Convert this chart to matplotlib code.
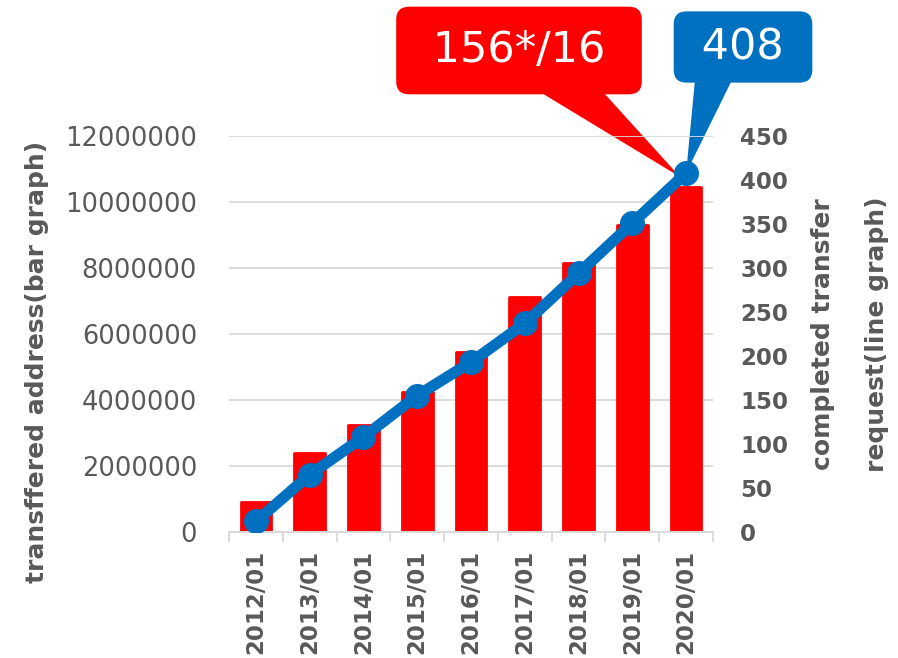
import numpy as np
import matplotlib.pyplot as plt
from matplotlib.patches import Polygon
from matplotlib.transforms import IdentityTransform

# values
months = ['2012/01', '2013/01', '2014/01', '2015/01', '2016/01',
          '2017/01', '2018/01', '2019/01', '2020/01']
addresses = [900000, 2400000, 3230000, 4250000, 5460000,
             7120000, 8140000, 9300000, 10460000]
requests = [12, 65, 108, 155, 193, 237, 294, 351, 408]
left_ticks = [0, 2000000, 4000000, 6000000, 8000000, 10000000, 12000000]
right_ticks = [0, 50, 100, 150, 200, 250, 300, 350, 400, 450]

gray = '#595959'
light = '#D9D9D9'
red = '#FF0000'
blue = '#0070C0'

W, H = 898, 658
fig = plt.figure(figsize=(W / 100, H / 100), dpi=100)
ax = fig.add_axes([229 / W, 1 - 532 / H, (713 - 229) / W, (532 - 136) / H])
ax2 = ax.twinx()

x = np.arange(len(months))

# bars (left axis)
ax.bar(x, addresses, width=0.57, color=red, edgecolor=red, linewidth=2,
       joinstyle='round', zorder=2)
ax.set_xlim(-0.5, len(months) - 0.5)
ax.set_ylim(0, 12000000)
ax.set_yticks(left_ticks, [str(v) for v in left_ticks])
ax.yaxis.grid(True, color=light, linewidth=1.3)
ax.set_axisbelow(True)
ax.tick_params(axis='y', length=0, pad=23, labelsize=18.5, labelcolor=gray)

ax.set_xticks(x, months, rotation=90, fontweight='bold')
ax.set_xticks(np.arange(-0.5, len(months), 1), minor=True)
ax.tick_params(axis='x', which='major', length=0, pad=13, labelsize=16.5,
               labelcolor=gray)
ax.tick_params(axis='x', which='minor', length=7, width=1.3, color=light,
               direction='out')

for a in (ax, ax2):
    for side in ('top', 'left', 'right'):
        a.spines[side].set_visible(False)
    a.spines['bottom'].set_color(light)
    a.spines['bottom'].set_linewidth(1.3)

# line (right axis)
ax2.plot(x, requests, color=blue, linewidth=8, marker='o', markersize=17,
         solid_capstyle='round', zorder=3)
ax2.set_ylim(0, 450)
ax2.set_yticks(right_ticks, [str(v) for v in right_ticks], fontweight='bold')
ax2.tick_params(axis='y', length=0, pad=19.5, labelsize=16.5, labelcolor=gray)

# callouts pointing to the last point of the line
tip_x, tip_y = ax2.transData.transform((x[-1], requests[-1]))
ax.add_patch(Polygon([(540, H - 92), (603, H - 92), (tip_x - 6, tip_y - 4)],
                     closed=True, fc=red, ec='none', transform=IdentityTransform(),
                     clip_on=False, zorder=0.1))
ax.add_patch(Polygon([(695, H - 80), (732, H - 80), (tip_x, tip_y)],
                     closed=True, fc=blue, ec='none', transform=IdentityTransform(),
                     clip_on=False, zorder=0.1))
fig.text(519 / W, 1 - 50.5 / H, ' 156*/16 ', ha='center', va='center',
         fontsize=31, color='white',
         bbox=dict(boxstyle='round,pad=0.53,rounding_size=0.3', fc=red, ec='none'))
fig.text(743 / W, 1 - 47 / H, ' 408 ', ha='center', va='center',
         fontsize=31, color='white',
         bbox=dict(boxstyle='round,pad=0.34,rounding_size=0.3', fc=blue, ec='none'))

# axis titles
fig.text(37 / W, 0.45, 'transffered address(bar graph)', rotation=90,
         fontsize=18, fontweight='bold', color=gray, ha='center', va='center')
fig.text(823 / W, 0.492, 'completed transfer', rotation=90,
         fontsize=18, fontweight='bold', color=gray, ha='center', va='center')
fig.text(877 / W, 0.492, 'request(line graph)', rotation=90,
         fontsize=18, fontweight='bold', color=gray, ha='center', va='center')

fig.savefig('out.png', dpi=100)
